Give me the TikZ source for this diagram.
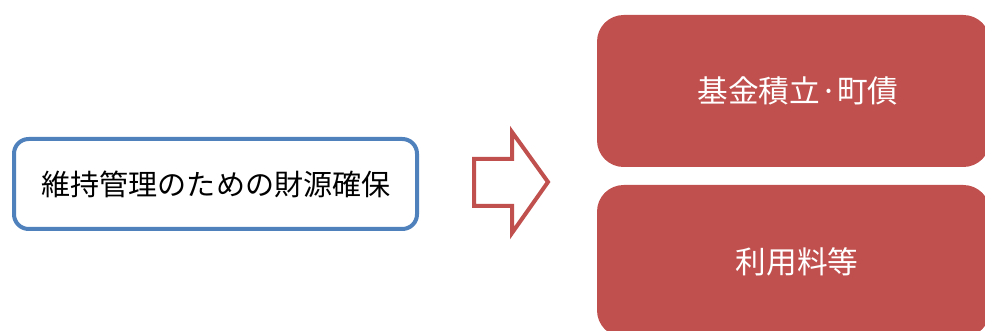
\documentclass[tikz,border=0pt]{standalone}
\usepackage{fontspec}
\setmainfont{Noto Sans CJK JP}
\definecolor{boxblue}{HTML}{4F81BD}
\definecolor{boxred}{HTML}{C0504D}
\tikzset{
  srcbox/.style={draw=boxblue, line width=3pt, fill=white, rounded corners=11pt},
  redbox/.style={fill=boxred, rounded corners=20pt},
  bigarrow/.style={draw=boxred, line width=3pt, fill=white, line join=miter},
  lbl/.style={font=\fontsize{21.8}{25}\selectfont, inner sep=0pt},
  rlbl/.style={font=\fontsize{23}{27}\selectfont, inner sep=0pt, text=white}
}
\begin{document}
\begin{tikzpicture}[x=0.75pt, y=-0.75pt]
\useasboundingbox (0,0) rectangle (985,331);
\clip (0,0) rectangle (985,331);
% left box
\draw[srcbox] (14,139) rectangle (417,229);
\node[lbl, text=black] (src) at (216,184) {維持管理のための財源確保};
% right boxes
\fill[redbox] (597,15) rectangle (990,167);
\node[rlbl] (a) at (798,91) {基金積立·町債};
\fill[redbox] (597,185) rectangle (990,337);
\node[rlbl] (b) at (797,262) {利用料等};
% block arrow
\draw[bigarrow] (474,159) -- (512,159) -- (512,132) -- (548,182) -- (512,233) -- (512,206) -- (474,206) -- cycle;
\end{tikzpicture}
\end{document}
